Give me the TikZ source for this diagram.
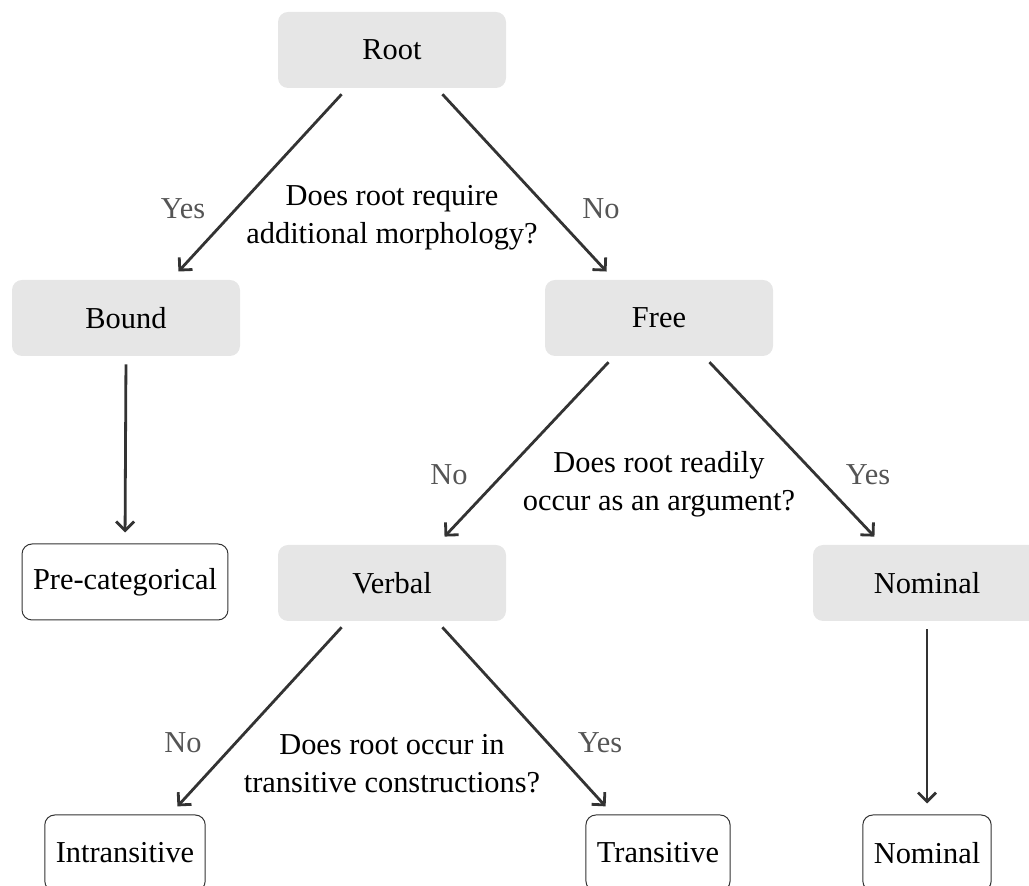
\documentclass[tikz,border=0pt]{standalone}
\usepackage{fontspec}
\setmainfont{Liberation Serif}
\usepackage{tikz}
\usetikzlibrary{arrows.meta}

\definecolor{boxgray}{HTML}{E6E6E6}
\definecolor{linegray}{HTML}{333333}
\definecolor{labelgray}{HTML}{555555}

\tikzset{
  txt/.style={font=\fontsize{15.2}{19}\selectfont},
  catbox/.style={txt, fill=boxgray, rounded corners=5pt, minimum width=114pt, minimum height=38pt, inner sep=0pt},
  leafbox/.style={txt, draw=linegray, line width=0.5pt, rounded corners=5pt, minimum height=38pt, inner xsep=5.5pt},
  ans/.style={txt, text=labelgray},
  quest/.style={txt, align=center},
  arr/.style={draw=linegray, line width=1.4pt, -{Straight Barb[length=4.5pt,width=9pt,line width=1.4pt]}, shorten <=4pt, shorten >=5.5pt}
}

\begin{document}
\begin{tikzpicture}[x=0.5pt,y=-0.5pt]
  \useasboundingbox (0,0) rectangle (1029,886); % same frame as the source
  % categories
  \node[catbox] (root) at (392,50) {Root};
  \node[catbox] (bound) at (126,318) {Bound};
  \node[catbox] (free) at (659,318) {Free};
  \node[catbox] (verbal) at (392,583) {Verbal};
  \node[catbox] (nomcat) at (927,583) {Nominal};
  % leaves
  \node[leafbox] (precat) at (125,582) {Pre-categorical};
  \node[leafbox] (intrans) at (125,853) {Intransitive};
  \node[leafbox] (trans) at (658,853) {Transitive};
  \node[leafbox] (nomleaf) at (927,853) {Nominal};
  % first split
  \draw[arr] ([xshift=-22.5pt]root.south) -- ([xshift=22.5pt]bound.north);
  \draw[arr] ([xshift=22.5pt]root.south) -- ([xshift=-22.5pt]free.north);
  \node[ans] (yes1) at (183,209) {Yes};
  \node[ans] (no1) at (601,209) {No};
  \node[quest] (q1) at (392,218) {Does root require\\additional morphology?};
  \draw[arr] (bound.south) -- (precat.north);
  % second split
  \draw[arr] ([xshift=-22.5pt]free.south) -- ([xshift=22.5pt]verbal.north);
  \draw[arr] ([xshift=22.5pt]free.south) -- ([xshift=-22.5pt]nomcat.north);
  \node[ans] (no2) at (449,475) {No};
  \node[ans] (yes2) at (868,475) {Yes};
  \node[quest] (q2) at (659,484) {Does root readily\\occur as an argument?};
  \draw[arr] (nomcat.south) -- (nomleaf.north);
  % third split
  \draw[arr] ([xshift=-22.5pt]verbal.south) -- ([xshift=22.5pt]intrans.north);
  \draw[arr] ([xshift=22.5pt]verbal.south) -- ([xshift=-22.5pt]trans.north);
  \node[ans] (no3) at (183,743) {No};
  \node[ans] (yes3) at (600,743) {Yes};
  \node[quest] (q3) at (392,764) {Does root occur in\\transitive constructions?};
\end{tikzpicture}
\end{document}
